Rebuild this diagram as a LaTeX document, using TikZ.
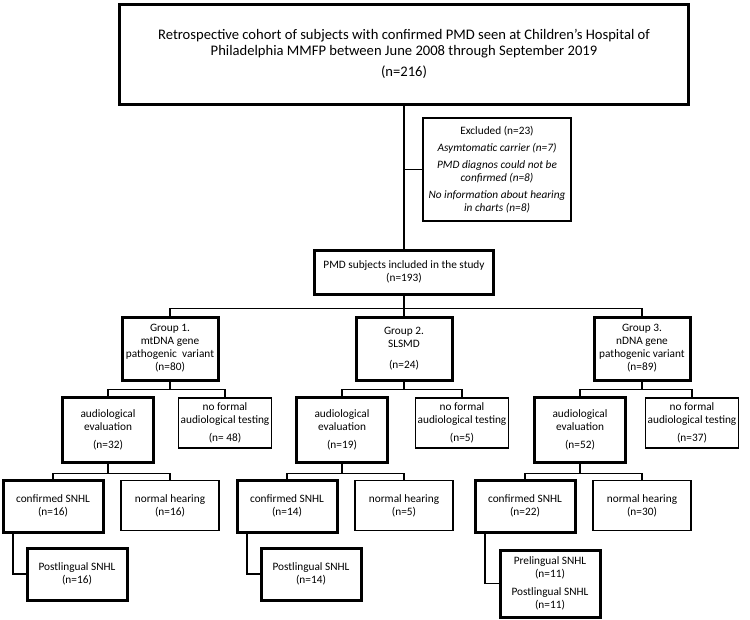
\documentclass[tikz,border=0pt]{standalone}
\usepackage{fontspec}
\setmainfont{Carlito}
\usetikzlibrary{positioning}
\newcommand{\boxfont}{\fontsize{11.3}{13}\selectfont}
\newcommand{\topfont}{\fontsize{14.6}{16}\selectfont}
\tikzset{
	thickbox/.style={draw, rectangle, line width=3pt, align=center, inner sep=1pt, font=\boxfont},
	thinbox/.style={draw, rectangle, line width=1.2pt, align=center, inner sep=1pt, font=\boxfont},
	% groups, evaluations and findings
	groupbox/.style={thickbox, minimum width=96pt, minimum height=63pt},
	evalbox/.style={thickbox, minimum width=91pt, minimum height=65pt},
	notestbox/.style={thinbox, minimum width=93pt, minimum height=50pt},
	snhlbox/.style={thickbox, minimum width=100pt, minimum height=52pt},
	normalbox/.style={thinbox, minimum width=98pt, minimum height=50pt},
}

\begin{document}
\begin{tikzpicture}[node distance=0pt]
	\useasboundingbox (0,0) rectangle (750pt,-619pt);
	
	\node (top) [thickbox, font=\topfont, minimum width=569pt, minimum height=100pt] at (404pt,-54pt) {Retrospective cohort of subjects with confirmed PMD seen at Children's Hospital of\\Philadelphia MMFP between June 2008 through September 2019\\[5pt](n=216)};
	
	\node (excl) [thinbox, below of=top, xshift=93pt, yshift=-115.5pt, minimum width=148pt, minimum height=103pt] {Excluded (n=23)\\[4pt]
		\textit{Asymtomatic carrier (n=7)}\\[4pt]
		\textit{PMD diagnos could not be}\\
		\textit{confirmed (n=8)}\\[4pt]
		\textit{No information about hearing}\\
		\textit{in charts (n=8)}};
	
	\node (pmd) [thickbox, below of=top, yshift=-218pt, minimum width=179pt, minimum height=44pt] {PMD subjects included in the study\\(n=193)};
	
	% groups
	\node (g1) [groupbox, below of=pmd, xshift=-234pt, yshift=-76.5pt] {Group 1.\\mtDNA gene\\pathogenic\ \ variant\\(n=80)};
	\node (g2) [groupbox, below of=pmd, yshift=-76.5pt] {Group 2.\\SLSMD\\[8pt](n=24)};
	\node (g3) [groupbox, below of=pmd, xshift=238pt, yshift=-76.5pt] {Group 3.\\nDNA gene\\pathogenic variant\\(n=89)};
	
	% audiological evaluation
	\node (a1) [evalbox, below of=g1, xshift=-62pt, yshift=-81pt] {audiological\\evaluation\\[5pt](n=32)};
	\node (n1) [notestbox, below of=g1, xshift=55pt, yshift=-74.5pt] {no formal\\audiological testing\\[5pt](n= 48)};
	\node (a2) [evalbox, below of=g2, xshift=-62pt, yshift=-81pt] {audiological\\evaluation\\[5pt](n=19)};
	\node (n2) [notestbox, below of=g2, xshift=58pt, yshift=-74.5pt] {no formal\\audiological testing\\[5pt](n=5)};
	\node (a3) [evalbox, below of=g3, xshift=-62pt, yshift=-81pt] {audiological\\evaluation\\[5pt](n=52)};
	\node (n3) [notestbox, below of=g3, xshift=50pt, yshift=-74.5pt] {no formal\\audiological testing\\[5pt](n=37)};
	
	% hearing
	\node (c1) [snhlbox, below of=a1, xshift=-55pt, yshift=-76.5pt] {confirmed SNHL\\(n=16)};
	\node (h1) [normalbox, below of=a1, xshift=62pt, yshift=-76pt] {normal hearing\\(n=16)};
	\node (c2) [snhlbox, below of=a2, xshift=-55pt, yshift=-76.5pt] {confirmed SNHL\\(n=14)};
	\node (h2) [normalbox, below of=a2, xshift=62pt, yshift=-76pt] {normal hearing\\(n=5)};
	\node (c3) [snhlbox, below of=a3, xshift=-55pt, yshift=-76.5pt] {confirmed SNHL\\(n=22)};
	\node (h3) [normalbox, below of=a3, xshift=62pt, yshift=-76pt] {normal hearing\\(n=30)};
	
	% onset
	\node (p1) [snhlbox, below of=c1, xshift=24pt, yshift=-68pt] {Postlingual SNHL\\(n=16)};
	\node (p2) [snhlbox, below of=c2, xshift=24pt, yshift=-68pt] {Postlingual SNHL\\(n=14)};
	\node (p3) [snhlbox, below of=c3, xshift=25pt, yshift=-77.5pt, minimum height=67pt] {Prelingual SNHL\\(n=11)\\[5pt]Postlingual SNHL\\(n=11)};
	
	\begin{scope}[line width=1.3pt]
		\draw (top.south) -- (pmd.north);
		\draw (excl.west) -- (excl.west -| pmd.north);
		\draw (pmd.south) -- ++(0,-13pt) -| (g1.north);
		\draw (pmd.south) -- (g2.north);
		\draw (pmd.south) -- ++(0,-13pt) -| (g3.north);
		\draw (g1.south) -- ++(0,-8pt) -| (a1.north);
		\draw (g1.south) -- ++(0,-8pt) -| (n1.north);
		\draw (g2.south) -- ++(0,-8pt) -| (a2.north);
		\draw (g2.south) -- ++(0,-8pt) -| (n2.north);
		\draw (g3.south) -- ++(0,-8pt) -| (a3.north);
		\draw (g3.south) -- ++(0,-8pt) -| (n3.north);
		\draw (a1.south) -- ++(0,-10pt) -| (c1.north);
		\draw (a1.south) -- ++(0,-10pt) -| (h1.north);
		\draw (a2.south) -- ++(0,-10pt) -| (c2.north);
		\draw (a2.south) -- ++(0,-10pt) -| (h2.north);
		\draw (a3.south) -- ++(0,-10pt) -| (c3.north);
		\draw (a3.south) -- ++(0,-10pt) -| (h3.north);
		\draw ([xshift=-40pt]c1.south) |- (p1.west);
		\draw ([xshift=-40pt]c2.south) |- (p2.west);
		\draw ([xshift=-40pt]c3.south) |- (p3.west);
	\end{scope}
\end{tikzpicture}
\end{document}
